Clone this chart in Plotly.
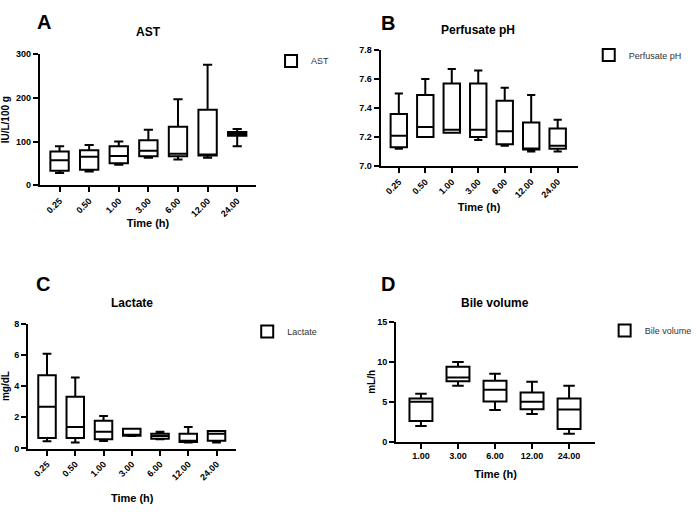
import plotly.graph_objects as go

W, H = 697, 514

# Time points (h)
times_7 = ['0.25', '0.50', '1.00', '3.00', '6.00', '12.00', '24.00']
times_5 = ['1.00', '3.00', '6.00', '12.00', '24.00']

# AST (IU/L/100 g): min, q1, median, q3, max per time point
ast_min = [28, 31, 47, 63, 59, 63, 89]
ast_q1 = [33, 35, 50, 66, 66, 68, 113]
ast_med = [57, 65, 67, 79, 72, 70, 118]
ast_q3 = [77, 80, 89, 103, 134, 173, 122]
ast_max = [89, 92, 100, 127, 197, 276, 129]

# Perfusate pH
ph_min = [7.12, 7.20, 7.23, 7.18, 7.14, 7.10, 7.10]
ph_q1 = [7.13, 7.20, 7.23, 7.20, 7.15, 7.115, 7.12]
ph_med = [7.21, 7.27, 7.25, 7.25, 7.24, 7.12, 7.14]
ph_q3 = [7.36, 7.49, 7.57, 7.57, 7.45, 7.30, 7.26]
ph_max = [7.50, 7.60, 7.67, 7.66, 7.54, 7.49, 7.32]

# Lactate (mg/dL)
lac_min = [0.46, 0.38, 0.48, 0.80, 0.60, 0.38, 0.38]
lac_q1 = [0.67, 0.67, 0.60, 0.82, 0.62, 0.42, 0.50]
lac_med = [2.67, 1.38, 1.08, 0.88, 0.80, 0.50, 0.94]
lac_q3 = [4.70, 3.32, 1.78, 1.26, 0.94, 0.94, 1.12]
lac_max = [6.08, 4.55, 2.08, 1.26, 1.08, 1.38, 1.12]

# Bile volume (mL/h)
bile_min = [1.97, 7.0, 3.98, 3.48, 0.98]
bile_q1 = [2.58, 7.58, 5.04, 4.06, 1.60]
bile_med = [5.0, 8.03, 6.52, 5.0, 4.02]
bile_q3 = [5.41, 9.39, 7.62, 6.15, 5.41]
bile_max = [6.02, 10.0, 8.52, 7.5, 7.0]


def px_x(v):
    return v / W


def px_y(v):
    return 1 - v / H


FONT = 'Liberation Sans, Arial, sans-serif'

fig = go.Figure()

panels = [
    # name, x, stats, xaxis, yaxis, legend
    ('AST', times_7, (ast_min, ast_q1, ast_med, ast_q3, ast_max), 'x', 'y', 'legend'),
    ('Perfusate pH', times_7, (ph_min, ph_q1, ph_med, ph_q3, ph_max), 'x2', 'y2', 'legend2'),
    ('Lactate', times_7, (lac_min, lac_q1, lac_med, lac_q3, lac_max), 'x3', 'y3', 'legend3'),
    ('Bile volume', times_5, (bile_min, bile_q1, bile_med, bile_q3, bile_max), 'x4', 'y4', 'legend4'),
]

for name, xs, (lo, q1, med, q3, hi), xa, ya, lg in panels:
    fig.add_trace(go.Box(
        x=xs, lowerfence=lo, q1=q1, median=med, q3=q3, upperfence=hi,
        name=name, xaxis=xa, yaxis=ya, legend=lg,
        fillcolor='white', line=dict(color='black', width=2),
        width=0.62, whiskerwidth=0.5, boxpoints=False, showlegend=True,
        hoverinfo='skip'
    ))

axis_common = dict(
    showline=True, linecolor='black', linewidth=2, mirror=False,
    ticks='outside', ticklen=5, tickwidth=2, tickcolor='black',
    showgrid=False, zeroline=False,
    tickfont=dict(family=FONT, size=9, color='black', weight='bold'),
)
title_font = dict(family=FONT, size=11, color='black', weight='bold')
ytitle_font = dict(family=FONT, size=10, color='black', weight='bold')

fig.update_layout(
    # panel A
    xaxis=dict(domain=[px_x(40), px_x(258)], anchor='y', type='category',
               range=[-0.67, 6.64], tickangle=-45,
               title=dict(text='Time (h)', font=title_font, standoff=1), **axis_common),
    yaxis=dict(domain=[px_y(183.7), px_y(50.3)], anchor='x', range=[0, 300],
               tickvals=[0, 100, 200, 300],
               title=dict(text='IU/L/100 g', font=ytitle_font, standoff=4), **axis_common),
    # panel B
    xaxis2=dict(domain=[px_x(383.3), px_x(581.7)], anchor='y2', type='category',
                range=[-0.69, 6.75], tickangle=-45,
                title=dict(text='Time (h)', font=title_font, standoff=4), **axis_common),
    yaxis2=dict(domain=[px_y(164.3), px_y(46)], anchor='x2', range=[7.0, 7.8],
                tickvals=[7.0, 7.2, 7.4, 7.6, 7.8], tickformat='.1f', **axis_common),
    # panel C
    xaxis3=dict(domain=[px_x(28.3), px_x(238)], anchor='y3', type='category',
                range=[-0.67, 6.7], tickangle=-45,
                title=dict(text='Time (h)', font=title_font, standoff=13), **axis_common),
    yaxis3=dict(domain=[px_y(452.3), px_y(325)], anchor='x3', range=[0, 8],
                tickvals=[0, 2, 4, 6, 8],
                title=dict(text='mg/dL', font=ytitle_font, standoff=5), **axis_common),
    # panel D
    xaxis4=dict(domain=[px_x(399), px_x(599.3)], anchor='y4', type='category',
                range=[-0.67, 4.7], tickangle=0,
                title=dict(text='Time (h)', font=title_font, standoff=10), **axis_common),
    yaxis4=dict(domain=[px_y(445.3), px_y(323.3)], anchor='x4', range=[0, 15],
                tickvals=[0, 5, 10, 15],
                title=dict(text='mL/h', font=ytitle_font, standoff=0), **axis_common),
)

legend_common = dict(
    xref='paper', yref='paper', xanchor='left', yanchor='middle',
    font=dict(family=FONT, size=9, color='#333333'),
    bgcolor='rgba(0,0,0,0)', borderwidth=0, itemclick=False,
)
fig.update_layout(
    legend=dict(x=px_x(273), y=px_y(57), **legend_common),
    legend2=dict(x=px_x(593), y=px_y(51), **legend_common),
    legend3=dict(x=px_x(249), y=px_y(333), **legend_common),
    legend4=dict(x=px_x(609), y=px_y(332), **legend_common),
)

# panel titles and letters
titles = [('AST', 150, 28), ('Perfusate pH', 481.7, 26), ('Lactate', 133, 304), ('Bile volume', 499, 304)]
letters = [('A', 44, 17), ('B', 391, 18), ('C', 43, 285), ('D', 390.7, 285)]
for text, x, y in titles:
    fig.add_annotation(text=text, x=px_x(x), y=px_y(y), xref='paper', yref='paper',
                       showarrow=False, xanchor='center', yanchor='middle',
                       font=dict(family=FONT, size=12, color='black', weight='bold'))
for text, x, y in letters:
    fig.add_annotation(text=text, x=px_x(x), y=px_y(y), xref='paper', yref='paper',
                       showarrow=False, xanchor='center', yanchor='middle',
                       font=dict(family=FONT, size=20, color='black', weight='bold'))

fig.update_layout(
    width=W, height=H,
    margin=dict(l=0, r=0, t=0, b=0),
    paper_bgcolor='white', plot_bgcolor='white',
    showlegend=True,
)

fig.write_html("out.html", config={'displayModeBar': False},
               post_script="document.body.style.margin='0';")
